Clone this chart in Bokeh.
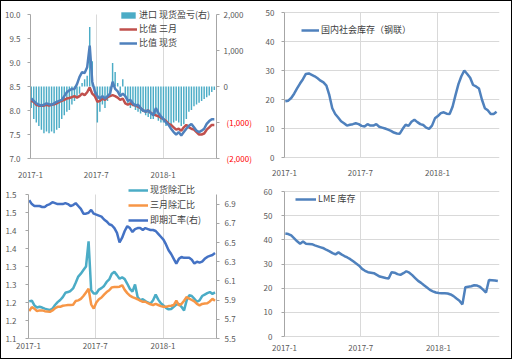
import pandas as pd
from bokeh.plotting import figure
from bokeh.models import (Range1d, LinearAxis, FixedTicker, CustomJSTickFormatter,
                          Legend, LegendItem, Grid)
from bokeh.layouts import row, column
from bokeh.embed import file_html
from bokeh.resources import INLINE

# ---------------- data (weekly readings) ----------------
dates = pd.date_range("2017-01-03", periods=73, freq="7D")

x_tick_dates = ["2017-01-01", "2017-07-01", "2018-01-01"]

import_pnl = [-600, -900, -1000, -1100, -1200, -1300, -1250, -1300, -1250, -1300,
              -1200, -1150, -900, -800, -700, -650, -500, -400, -300, -200,
              100, 200, 300, 1650, 700, -300, -1000, -700, -500, -600,
              -400, -200, 650, 400, 100, -200, 200, -300, -500, -600,
              -550, -650, -700, -750, -700, -800, -850, -900, -900, -800,
              -950, -1000, -1000, -1100, -1050, -1100, -1000, -950, -1000, -1100,
              -1050, -900, -700, -650, -550, -500, -450, -400, -350, -300,
              -250, -150, -100]

ratio_3m = [8.2, 8.18, 8.12, 8.1, 8.1, 8.1, 8.12, 8.1, 8.12, 8.13,
            8.15, 8.18, 8.2, 8.22, 8.25, 8.26, 8.28, 8.3, 8.27, 8.3,
            8.35, 8.32, 8.38, 8.48, 8.35, 8.3, 8.18, 8.2, 8.25, 8.22,
            8.28, 8.3, 8.32, 8.3, 8.27, 8.22, 8.25, 8.15, 8.12, 8.15,
            8.12, 8.1, 8.08, 8.05, 8.0, 7.98, 8.0, 7.95, 7.92, 7.9,
            7.88, 7.85, 7.82, 7.78, 7.72, 7.7, 7.65, 7.6, 7.62, 7.58,
            7.65, 7.7, 7.65, 7.62, 7.6, 7.55, 7.5, 7.5, 7.52, 7.6,
            7.65, 7.7, 7.7]

ratio_spot = [8.25, 8.2, 8.15, 8.12, 8.1, 8.12, 8.15, 8.13, 8.12, 8.15,
              8.18, 8.2, 8.22, 8.3, 8.38, 8.42, 8.45, 8.45, 8.55, 8.7,
              8.8, 8.78, 8.9, 9.35, 8.6, 8.4, 8.3, 8.25, 8.3, 8.25,
              8.3, 8.35, 8.6, 8.45, 8.4, 8.3, 8.35, 8.3, 8.2, 8.22,
              8.15, 8.1, 8.12, 8.05, 8.0, 7.98, 8.0, 7.95, 7.9, 8.05,
              7.95, 7.88, 7.82, 7.75, 7.7, 7.62, 7.55, 7.5, 7.55, 7.48,
              7.55, 7.62, 7.68, 7.72, 7.65, 7.58, 7.55, 7.58, 7.62, 7.72,
              7.78, 7.82, 7.82]

domestic_stock = [19.4, 19.6, 20.5, 22.0, 23.8, 25.5, 27.0, 28.8, 29.0, 28.5,
                  28.0, 27.3, 26.5, 25.9, 24.8, 21.5, 17.0, 15.0, 13.8, 12.5,
                  11.8, 11.0, 11.3, 11.5, 11.8, 11.5, 10.9, 10.7, 11.5, 11.0,
                  11.0, 11.5, 10.6, 10.3, 10.0, 9.6, 9.2, 8.6, 8.3, 8.2,
                  9.9, 11.3, 10.9, 12.3, 13.0, 12.2, 11.5, 11.2, 10.3, 9.9,
                  11.0, 13.5, 14.3, 15.3, 15.6, 15.1, 15.0, 17.5, 21.5, 25.3,
                  28.0, 30.0, 28.8, 27.5, 25.0, 24.5, 23.8, 20.0, 17.0, 16.3,
                  15.0, 15.0, 15.8]

spot_fx_ratio = [1.203, 1.205, 1.192, 1.186, 1.188, 1.186, 1.183, 1.181, 1.179, 1.183,
                 1.193, 1.201, 1.207, 1.215, 1.227, 1.229, 1.232, 1.239, 1.255, 1.272,
                 1.280, 1.290, 1.300, 1.370, 1.234, 1.225, 1.225, 1.236, 1.240, 1.246,
                 1.257, 1.264, 1.280, 1.285, 1.276, 1.266, 1.270, 1.265, 1.252, 1.238,
                 1.230, 1.250, 1.215, 1.206, 1.209, 1.204, 1.200, 1.197, 1.206, 1.222,
                 1.208, 1.198, 1.192, 1.185, 1.181, 1.182, 1.188, 1.194, 1.196, 1.188,
                 1.178, 1.206, 1.220, 1.218, 1.210, 1.202, 1.206, 1.218, 1.222, 1.226,
                 1.229, 1.224, 1.228]

m3_fx_ratio = [1.176, 1.187, 1.183, 1.176, 1.178, 1.178, 1.176, 1.175, 1.174, 1.178,
               1.184, 1.188, 1.188, 1.191, 1.192, 1.193, 1.193, 1.194, 1.204, 1.206,
               1.210, 1.218, 1.228, 1.238, 1.195, 1.183, 1.200, 1.209, 1.214, 1.222,
               1.229, 1.234, 1.242, 1.243, 1.243, 1.244, 1.248, 1.235, 1.226, 1.219,
               1.215, 1.212, 1.209, 1.205, 1.202, 1.202, 1.198, 1.195, 1.193, 1.196,
               1.193, 1.190, 1.188, 1.188, 1.190, 1.191, 1.193, 1.205, 1.192, 1.196,
               1.205, 1.215, 1.211, 1.207, 1.203, 1.196, 1.192, 1.196, 1.197, 1.198,
               1.203, 1.210, 1.205]

usdcny = [6.94, 6.90, 6.88, 6.88, 6.88, 6.87, 6.87, 6.89, 6.90, 6.92,
          6.91, 6.90, 6.90, 6.90, 6.91, 6.90, 6.88, 6.89, 6.91, 6.88,
          6.85, 6.80, 6.80, 6.81, 6.84, 6.80, 6.79, 6.78, 6.77, 6.74,
          6.72, 6.69, 6.68, 6.65, 6.60, 6.50, 6.55, 6.62, 6.67, 6.65,
          6.61, 6.64, 6.65, 6.65, 6.63, 6.65, 6.64, 6.63, 6.63, 6.62,
          6.59, 6.56, 6.53, 6.48, 6.42, 6.38, 6.33, 6.28, 6.33, 6.35,
          6.34, 6.34, 6.34, 6.32, 6.28, 6.30, 6.29, 6.30, 6.33, 6.35,
          6.36, 6.37, 6.39]

lme_stock = [42.6, 42.4, 41.8, 40.6, 39.4, 38.4, 39.3, 38.4, 38.3, 38.2,
             37.7, 37.3, 36.9, 36.5, 35.8, 35.2, 34.5, 34.0, 34.8, 34.0,
             33.3, 32.7, 32.0, 31.1, 30.2, 29.3, 28.0, 27.2, 26.6, 26.4,
             26.2, 25.5, 24.8, 24.5, 24.2, 24.0, 26.6, 26.4, 25.8, 25.5,
             26.2, 27.0, 26.4, 25.4, 24.2, 23.0, 22.2, 21.2, 20.3, 19.3,
             18.7, 18.2, 18.0, 17.9, 17.9, 17.8, 17.4, 16.7, 15.7, 14.8,
             13.3, 20.4, 20.6, 20.8, 21.2, 21.1, 20.5, 19.4, 18.2, 23.4,
             23.3, 23.2, 23.0]

# ---------------- styling ----------------
BLUE = "#4F81BD"
RED = "#C0504D"
TEAL = "#4BACC6"
ORANGE = "#F79646"
TXT = "#595959"
GRID = "#D9D9D9"
AXIS = "#A6A6A6"
FONT = "Noto Sans CJK SC"
DAY = 86400000
HAS_CROSS = "cross_bounds" in Grid.properties()

X0 = pd.Timestamp("2017-01-01")
xticks_ms = [pd.Timestamp(d).value // 10**6 for d in x_tick_dates]
date_fmt = CustomJSTickFormatter(code="""
const d = new Date(tick);
return d.getUTCFullYear() + "-" + (d.getUTCMonth() + 1);
""")


def style_axis(ax, standoff):
    ax.axis_line_color = AXIS
    ax.major_tick_line_color = AXIS
    ax.minor_tick_line_color = None
    ax.major_tick_in = 0
    ax.major_tick_out = 3
    ax.major_label_text_font = FONT
    ax.major_label_text_font_size = "8px"
    ax.major_label_text_color = TXT
    ax.major_label_standoff = standoff


def make_fig(w, h, bl, br, bt, bb, x_end, y0, y1, ystart, yend, yticks, yfmt,
             xstand, ystand, ygrid):
    p = figure(width=w, height=h, x_axis_type="datetime", title=None,
               x_range=Range1d(X0, pd.Timestamp(x_end)), y_range=Range1d(ystart, yend),
               output_backend="svg", toolbar_location=None,
               min_border_left=bl, min_border_right=br,
               min_border_top=bt, min_border_bottom=bb)
    p.outline_line_color = None
    p.background_fill_color = "white"
    p.border_fill_color = "white"
    xa = p.xaxis[0]
    xa.ticker = FixedTicker(ticks=xticks_ms)
    xa.formatter = date_fmt
    style_axis(xa, xstand)
    xa.axis_line_color = "#BFBFBF" if not ygrid else None
    xa.major_tick_out = 0
    ya = p.yaxis[0]
    ya.ticker = FixedTicker(ticks=yticks)
    ya.formatter = CustomJSTickFormatter(code=yfmt)
    ya.bounds = (y0, y1)
    style_axis(ya, ystand)
    p.xgrid.ticker = FixedTicker(ticks=xticks_ms)
    p.xgrid.grid_line_color = GRID
    if HAS_CROSS:
        p.xgrid[0].cross_bounds = (y0, y1)
    if ygrid:
        p.ygrid.ticker = FixedTicker(ticks=yticks)
        p.ygrid.grid_line_color = GRID
    else:
        p.ygrid.grid_line_color = None
    return p


def make_legend(items, loc, gw, spacing):
    return Legend(items=items, location=loc, glyph_width=gw, glyph_height=8,
                  label_height=8, label_standoff=2, spacing=spacing, padding=0,
                  margin=0, label_text_font=FONT, label_text_font_size="9px",
                  label_text_color="#404040", background_fill_alpha=0,
                  border_line_color=None)


# common borders: top row frame 6..158, bottom row frame 182..338
# left column frame x 28..216, right column frame x 284..499

# ---------------- top-left ----------------
tl = make_fig(255, 179, 27, 40, 5, 22, "2018-05-28", 7, 10, 7, 10 + 8 / 48,
              [7.0, 7.5, 8.0, 8.5, 9.0, 9.5, 10.0], "return tick.toFixed(1);",
              13, 7, False)
tl.extra_y_ranges = {"r": Range1d(-2000, 2000 + 8 / 144 * 4000)}
r_ticks = [-2000, -1000, 0, 1000, 2000]
ra = LinearAxis(y_range_name="r", ticker=FixedTicker(ticks=r_ticks), bounds=(-2000, 2000),
                formatter=CustomJSTickFormatter(code="""
if (tick < 0) return "";
return tick.toLocaleString("en-US");
"""))
style_axis(ra, 4)
tl.add_layout(ra, "right")
rb = LinearAxis(y_range_name="r", ticker=FixedTicker(ticks=r_ticks), bounds=(-2000, 2000),
                formatter=CustomJSTickFormatter(code="""
if (tick >= 0) return "";
return "(" + (-tick).toLocaleString("en-US") + ")";
"""))
style_axis(rb, -20)
rb.axis_line_color = None
rb.major_tick_line_color = None
rb.major_tick_out = 0
rb.major_label_text_color = "#FF0000"
tl.add_layout(rb, "right")
bars = tl.vbar(x=dates, top=import_pnl, bottom=0, width=4 * DAY, y_range_name="r",
               fill_color=TEAL, line_color=None)
r3 = tl.line(dates, ratio_3m, line_color=RED, line_width=2.5)
rs = tl.line(dates, ratio_spot, line_color=BLUE, line_width=2.5)
tl.add_layout(make_legend([LegendItem(label="进口 现货盈亏(右)", renderers=[bars]),
                           LegendItem(label="比值 三月", renderers=[r3]),
                           LegendItem(label="比值 现货", renderers=[rs])],
                          (89, 109), 18, 1))

# ---------------- top-right ----------------
tr = make_fig(255, 179, 28, 12, 5, 22, "2018-05-29", 0, 50, -1 / 2.9, 50 + 6 / 2.9,
              [0, 10, 20, 30, 40, 50], "return tick.toFixed(0);", 11, 7, True)
ds = tr.line(dates, domestic_stock, line_color=BLUE, line_width=2.5)
tr.add_layout(make_legend([LegendItem(label="国内社会库存（钢联）", renderers=[ds])],
                          (17, 122), 18, 1))

# ---------------- bottom-left ----------------
bl = make_fig(255, 178, 27, 40, 2, 20, "2018-05-26", 1.1, 1.5, 1.1, 1.5 + 12 / 144 * 0.4,
              [1.1, 1.15, 1.2, 1.25, 1.3, 1.35, 1.4, 1.45, 1.5],
              "return (Math.round(tick * 10 + 1e-9) / 10).toFixed(1);", 4, 9, False)
bl.extra_y_ranges = {"r": Range1d(5.5, 7.0 + 12 / 144 * 1.5)}
ra2 = LinearAxis(y_range_name="r", ticker=FixedTicker(ticks=[5.5, 5.7, 5.9, 6.1, 6.3, 6.5, 6.7, 6.9]),
                 bounds=(5.5, 7.0),
                 formatter=CustomJSTickFormatter(code="return tick.toFixed(1);"))
style_axis(ra2, 5)
bl.add_layout(ra2, "right")
sf = bl.line(dates, spot_fx_ratio, line_color=TEAL, line_width=2.5)
mf = bl.line(dates, m3_fx_ratio, line_color=ORANGE, line_width=2.5)
fx = bl.line(dates, usdcny, line_color="#4472C4", line_width=2.5, y_range_name="r")
bl.add_layout(make_legend([LegendItem(label="现货除汇比", renderers=[sf]),
                           LegendItem(label="三月除汇比", renderers=[mf]),
                           LegendItem(label="即期汇率(右)", renderers=[fx])],
                          (100, 112), 20, 2))

# ---------------- bottom-right ----------------
br = make_fig(255, 178, 28, 12, 2, 20, "2018-05-26", 0, 60, -2 / (145 / 60), 60 + 9 / (145 / 60),
              [0, 10, 20, 30, 40, 50, 60], "return tick.toFixed(0);", 6, 9, True)
lm = br.line(dates, lme_stock, line_color=BLUE, line_width=2.5)
br.add_layout(make_legend([LegendItem(label="LME 库存", renderers=[lm])],
                          (11, 133), 21, 1))

layout = column(row(tl, tr, spacing=0), row(bl, br, spacing=0), spacing=0,
                styles={"position": "absolute", "left": "0px", "top": "0px",
                        "border": "1px solid black", "background-color": "white"})

open("out.html", "w").write(file_html(layout, INLINE))
